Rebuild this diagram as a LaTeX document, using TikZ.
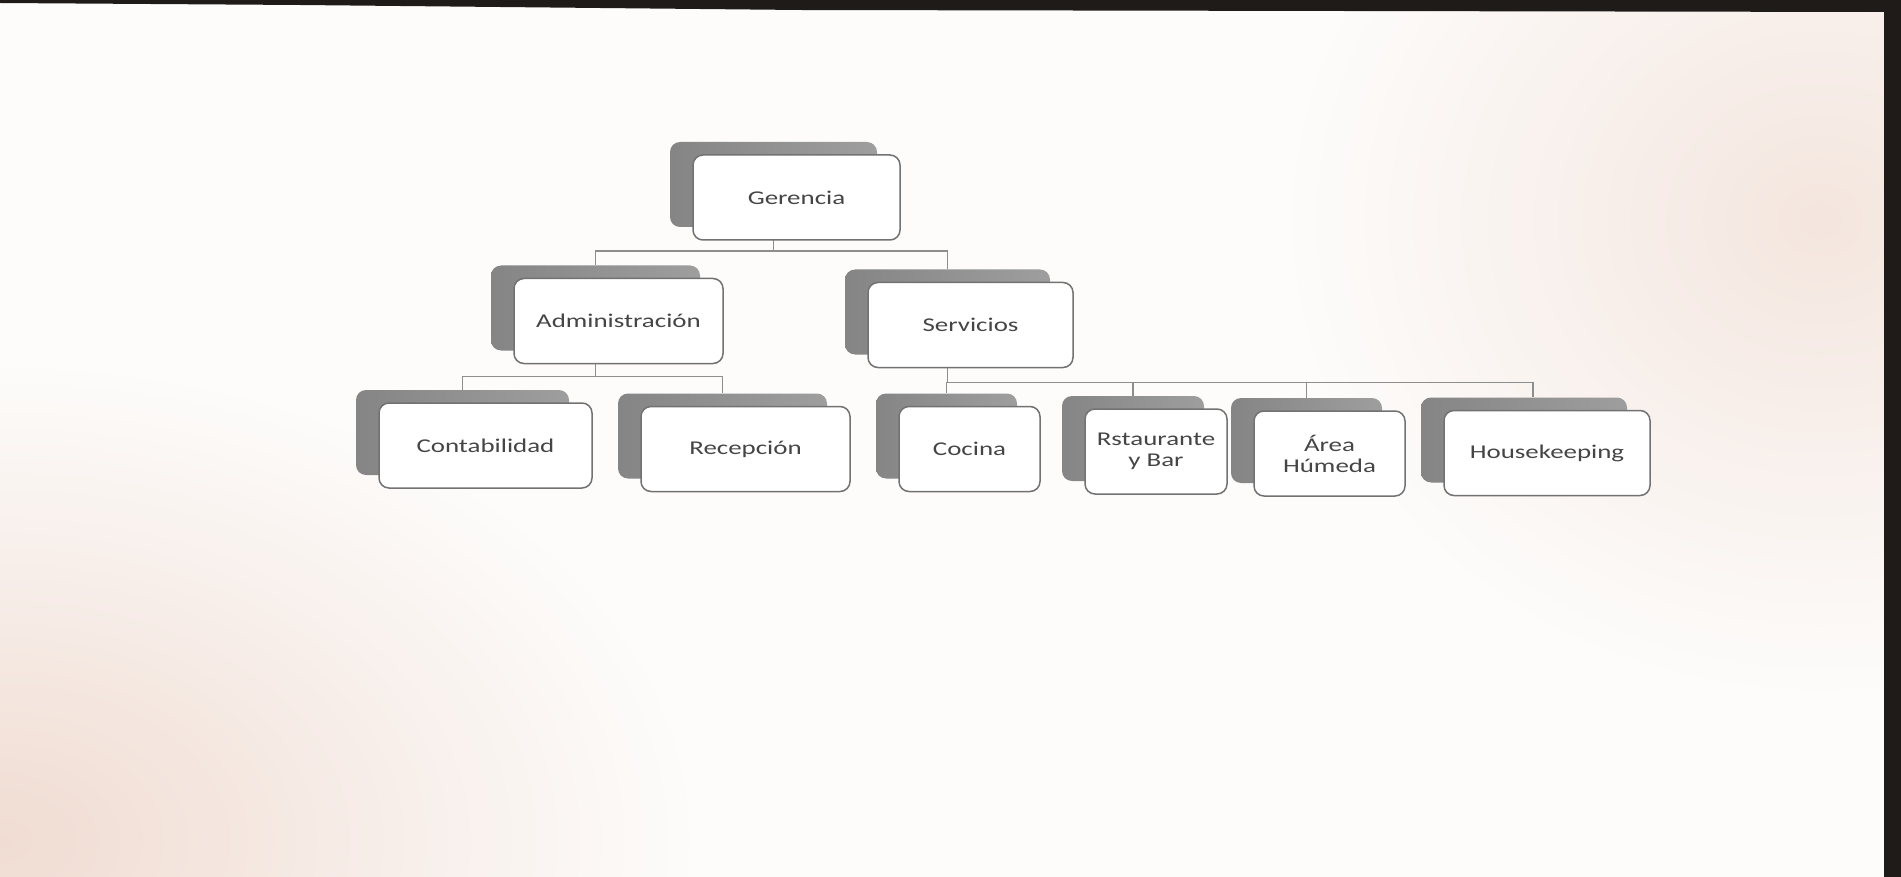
\documentclass[tikz,border=0pt]{standalone}
\usepackage{fontspec}
\setmainfont{Carlito}
\newfontfamily\boxfont[FakeStretch=1.38]{Carlito}
\usepackage{tikz}
\usetikzlibrary{calc}
\usepackage{xcolor}

\definecolor{paper}{HTML}{FDFCFB}
\definecolor{peach}{HTML}{F0DCD2}
\definecolor{frame}{HTML}{1F1B19}
\definecolor{boxline}{HTML}{727272}
\definecolor{boxtext}{HTML}{454545}
\definecolor{shadowL}{HTML}{858585}
\definecolor{shadowR}{HTML}{9E9E9E}
\definecolor{linkgray}{HTML}{8E8E8E}

\tikzset{
    back/.style={rounded corners=10pt,left color=shadowL,right color=shadowR,
        minimum width=#1,minimum height=85pt,inner sep=0pt},
    front/.style={draw=boxline,line width=1.5pt,fill=white,rounded corners=10pt,
        minimum width=#1,minimum height=85pt,inner sep=0pt,align=center,
        text=boxtext,font=\fontsize{19.5}{21}\boxfont},
    link/.style={draw=linkgray,line width=1.5pt}
}

\begin{document}
\begin{tikzpicture}[x=1pt,y=-1pt]
    % Paper
    \useasboundingbox (0,0) rectangle (1901,877);
    \fill[paper] (0,0) rectangle (1901,877);
    \begin{scope}
        \clip (0,0) rectangle (1901,877);
        \shade[inner color=peach,outer color=paper] (0,840) ellipse (700 and 480);
        \shade[inner color=peach!70!paper,outer color=paper] (1820,220) ellipse (540 and 480);
    \end{scope}
    % Frame
    \fill[frame] (0,0) -- (1901,0) -- (1901,877) -- (1884,877) -- (1884,12)
        -- (800,10) -- (300,5) -- (0,3) -- cycle;
    % Back boxes
    \node[back=207pt] (ger) at (773.5,184.5) {};
    \node[back=209pt] (adm) at (595.5,308) {};
    \node[back=205pt] (srv) at (947.5,312) {};
    \node[back=213pt] (con) at (462.5,432.5) {};
    \node[back=209pt] (rec) at (722.5,436) {};
    \node[back=141pt] (coc) at (946.5,436) {};
    \node[back=142pt] (rst) at (1133,438.5) {};
    \node[back=151pt] (are) at (1306.5,440.5) {};
    \node[back=206pt] (hk) at (1524,440) {};
    % Links
    \draw[link] (ger.south) -- ++(0,24) -| (adm.north);
    \draw[link] (ger.south) -- ++(0,24) -| (srv.north);
    \draw[link] (adm.south) -- ++(0,26) -| (con.north);
    \draw[link] (adm.south) -- ++(0,26) -| (rec.north);
    \draw[link] (srv.south) -- ++(0,28) -| (coc.north);
    \draw[link] (srv.south) -- ++(0,28) -| (rst.north);
    \draw[link] (srv.south) -- ++(0,28) -| (are.north);
    \draw[link] (srv.south) -- ++(0,28) -| ($(hk.north)+(9,0)$);
    % Front boxes
    \node[front=207pt] (gerF) at ($(ger)+(23,13)$) {Gerencia};
    \node[front=209pt] (admF) at ($(adm)+(23,13)$) {Administración};
    \node[front=205pt] (srvF) at ($(srv)+(23,13)$) {Servicios};
    \node[front=213pt] (conF) at ($(con)+(23,13)$) {Contabilidad};
    \node[front=209pt] (recF) at ($(rec)+(23,13)$) {Recepción};
    \node[front=141pt] (cocF) at ($(coc)+(23,13)$) {Cocina};
    \node[front=142pt] (rstF) at ($(rst)+(23,13)$) {Rstaurante\\y Bar};
    \node[front=151pt] (areF) at ($(are)+(23,13)$) {Área\\Húmeda};
    \node[front=206pt] (hkF) at ($(hk)+(23,13)$) {Housekeeping};
\end{tikzpicture}
\end{document}
